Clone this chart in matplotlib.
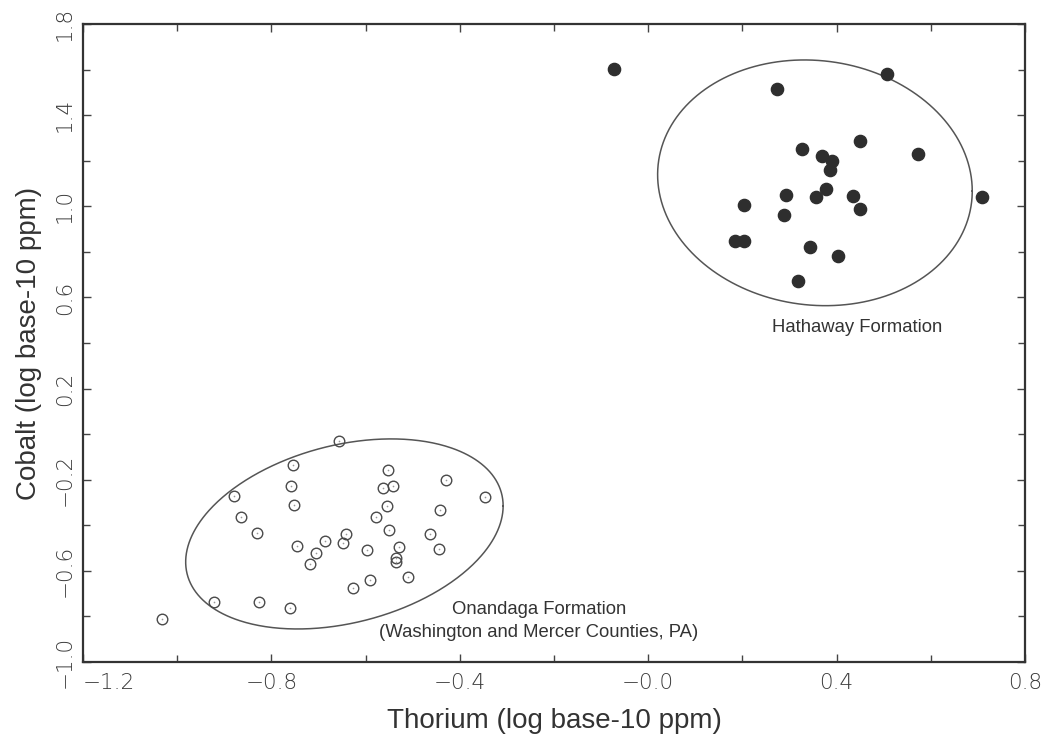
import numpy as np
import matplotlib
matplotlib.use("Agg")
import matplotlib.pyplot as plt

# ---------------- data ----------------
hathaway_th = [-0.072, 0.273, 0.506, 0.327, 0.370, 0.390, 0.386, 0.449, 0.572, 0.709,
               0.292, 0.357, 0.377, 0.435, 0.449, 0.203, 0.289, 0.184, 0.203, 0.344,
               0.404, 0.318]
hathaway_co = [1.603, 1.516, 1.581, 1.250, 1.222, 1.200, 1.161, 1.287, 1.230, 1.042,
               1.048, 1.042, 1.077, 1.045, 0.990, 1.007, 0.961, 0.849, 0.849, 0.823,
               0.782, 0.671]

onondaga_th = [-0.657, -0.754, -0.758, -0.879, -0.751, -0.865, -0.831, -0.552, -0.429, -0.564,
               -0.542, -0.347, -0.555, -0.441, -0.578, -0.550, -0.464, -0.445, -0.642, -0.647,
               -0.686, -0.745, -0.705, -0.717, -0.596, -0.529, -0.536, -0.536, -0.509, -0.590,
               -0.626, -0.921, -0.826, -0.761, -1.032]
onondaga_co = [-0.030, -0.136, -0.229, -0.270, -0.309, -0.363, -0.432, -0.157, -0.202, -0.237,
               -0.229, -0.275, -0.314, -0.334, -0.363, -0.422, -0.439, -0.502, -0.438, -0.476,
               -0.470, -0.489, -0.520, -0.568, -0.508, -0.494, -0.544, -0.559, -0.627, -0.638,
               -0.676, -0.738, -0.738, -0.761, -0.811]

# ellipses: centre x, centre y, half-width x, half-height y, tilt term
hathaway_ellipse = [0.354, 1.103, 0.334, 0.538, -0.036]
onondaga_ellipse = [-0.645, -0.438, 0.337, 0.3985, 0.123]

x_ticks = [-1.2, -0.8, -0.4, 0.0, 0.4, 0.8]
x_tick_labels = ["\u22121.2", "\u22120.8", "\u22120.4", "\u22120.0", "0.4", "0.8"]
y_ticks = [-1.0, -0.6, -0.2, 0.2, 0.6, 1.0, 1.4, 1.8]
y_tick_labels = ["\u22121.0", "\u22120.6", "\u22120.2", "0.2", "0.6", "1.0", "1.4", "1.8"]

x_label = "Thorium (log base-10 ppm)"
y_label = "Cobalt (log base-10 ppm)"
hathaway_text = "Hathaway Formation"
onondaga_text1 = "Onandaga Formation"
onondaga_text2 = "(Washington and Mercer Counties, PA)"

# ---------------- figure ----------------
W, H = 1047, 736
fig = plt.figure(figsize=(W / 100, H / 100), dpi=100)
ax = fig.add_axes([83 / W, 1 - 662 / H, (1025 - 83) / W, (662 - 24) / H])
ax.set_xlim(-1.2, 0.8)
ax.set_ylim(-1.0, 1.8)

dark = "#2e2e2e"
grey = "#555555"

def draw_ellipse(params):
    cx, cy, rx, ry, s = params
    t = np.linspace(0, 2 * np.pi, 500)
    ax.plot(cx + rx * np.cos(t), cy + ry * np.sin(t) + s * np.cos(t),
            color=grey, lw=1.1, zorder=2)

draw_ellipse(hathaway_ellipse)
draw_ellipse(onondaga_ellipse)

ax.plot(hathaway_th, hathaway_co, linestyle="none", marker="o", markersize=8.8,
        markerfacecolor=dark, markeredgecolor=dark, zorder=3)
ax.plot(onondaga_th, onondaga_co, linestyle="none", marker="o", markersize=7.6,
        markerfacecolor="none", markeredgecolor="#4a4a4a", markeredgewidth=1.0, zorder=3)
ax.plot(onondaga_th, onondaga_co, linestyle="none", marker="o", markersize=1.2,
        markerfacecolor="#999999", markeredgecolor="none", zorder=3)

# text annotations
txt_font = ["Liberation Sans", "DejaVu Sans"]
ax.text(0.443, 0.466, hathaway_text, ha="center", va="center", fontsize=13.3,
        color="#333333", family=txt_font)
ax.text(-0.232, -0.771, onondaga_text1, ha="center", va="center", fontsize=13.3,
        color="#333333", family=txt_font)
ax.text(-0.232, -0.872, onondaga_text2, ha="center", va="center", fontsize=13.3,
        color="#333333", family=txt_font)

# spines
for sp in ax.spines.values():
    sp.set_color("#333333")
    sp.set_linewidth(1.6)

# ticks
ax.set_xticks(x_ticks)
ax.set_xticklabels(x_tick_labels)
ax.set_yticks(y_ticks)
ax.set_yticklabels(y_tick_labels, rotation=90, va="center")
ax.set_xticks(np.arange(-1.0, 0.8, 0.4), minor=True)
ax.set_yticks(np.arange(-0.8, 1.8, 0.4), minor=True)
ax.tick_params(which="both", direction="in", top=True, right=True,
               color="#444444", width=1.0)
ax.tick_params(which="major", length=6)
ax.tick_params(which="minor", length=5)
ax.tick_params(axis="x", which="major", pad=8, labelsize=15.5, labelcolor="#3c3c3c")
ax.tick_params(axis="y", which="major", pad=6, labelsize=15.5, labelcolor="#3c3c3c")
for lab in ax.get_xticklabels() + ax.get_yticklabels():
    lab.set_family(["DejaVu Sans"])
    lab.set_fontweight("light")
xl = ax.get_xticklabels()
xl[0].set_horizontalalignment("left")

ax.set_xlabel(x_label, fontsize=20, color="#333333", family=txt_font, labelpad=11)
ax.set_ylabel(y_label, fontsize=20, color="#333333", family=txt_font, labelpad=9)

fig.savefig("out.png", dpi=100, facecolor="white")
